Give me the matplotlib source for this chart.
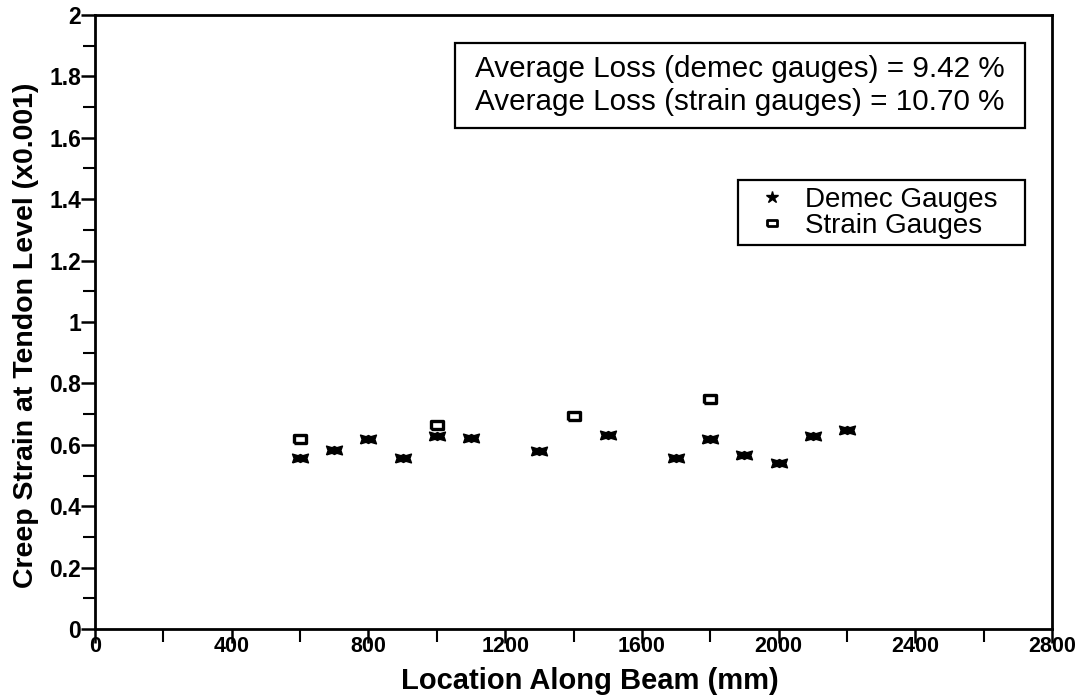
import matplotlib
matplotlib.use("Agg")
import matplotlib.pyplot as plt
from matplotlib.ticker import MultipleLocator
from matplotlib.path import Path
from matplotlib.patches import Rectangle
from matplotlib.lines import Line2D

plt.rcParams['font.family'] = ['Liberation Sans', 'DejaVu Sans']

demec_x = [600, 700, 800, 900, 1000, 1100, 1300, 1500, 1700, 1800, 1900, 2000, 2100, 2200]
demec_y = [0.557, 0.583, 0.619, 0.557, 0.629, 0.622, 0.580, 0.632, 0.557, 0.619, 0.567, 0.541, 0.629, 0.648]
strain_x = [600, 1000, 1400, 1800]
strain_y = [0.619, 0.664, 0.694, 0.749]

x_ticks = [0, 400, 800, 1200, 1600, 2000, 2400, 2800]
y_ticks = [0, 0.2, 0.4, 0.6, 0.8, 1, 1.2, 1.4, 1.6, 1.8, 2]
y_tick_labels = ['0', '0.2', '0.4', '0.6', '0.8', '1', '1.2', '1.4', '1.6', '1.8', '2']
info_text = 'Average Loss (demec gauges) = 9.42 %\nAverage Loss (strain gauges) = 10.70 %'

fig = plt.figure(figsize=(10.83, 7), dpi=100)
ax = fig.add_axes([0.0877, 0.1014, 0.9714 - 0.0877, 0.9786 - 0.1014])

bow = Path([(-1, -0.55), (-0.3, -0.35), (0, -0.5), (0.3, -0.35), (1, -0.55),
            (0.8, 0), (1, 0.55), (0.3, 0.35), (0, 0.5), (-0.3, 0.35), (-1, 0.55), (-0.8, 0), (-1, -0.55)])
rect = Path([(-1, -0.65), (1, -0.65), (1, 0.65), (-1, 0.65), (-1, -0.65)])

ax.plot(demec_x, demec_y, linestyle='none', marker=bow, markersize=11.5,
        color='black', markeredgewidth=1)
ax.plot(strain_x, strain_y, linestyle='none', marker=rect, markersize=8.5,
        markerfacecolor='white', markeredgecolor='black', markeredgewidth=2.4)

ax.set_xlim(0, 2800)
ax.set_ylim(0, 2)
ax.set_xticks(x_ticks)
ax.set_yticks(y_ticks)
ax.set_xticklabels([str(v) for v in x_ticks])
ax.set_yticklabels(y_tick_labels)
ax.xaxis.set_minor_locator(MultipleLocator(200))
ax.yaxis.set_minor_locator(MultipleLocator(0.1))
ax.tick_params(axis='both', which='major', direction='out', length=10, width=1.8)
ax.tick_params(axis='x', which='major', pad=-5, labelsize=15.5)
ax.tick_params(axis='y', which='major', pad=0, labelsize=16.5)
ax.tick_params(axis='both', which='minor', direction='out', length=9, width=1.5)
for lbl in ax.get_xticklabels() + ax.get_yticklabels():
    lbl.set_fontweight('bold')
for sp in ax.spines.values():
    sp.set_linewidth(2)

ax.set_xlabel('Location Along Beam (mm)', fontsize=21, fontweight='bold')
ax.xaxis.set_label_coords(0.517, -0.062)
ax.set_ylabel('Creep Strain at Tendon Level (x0.001)', fontsize=20.5, fontweight='bold')
ax.yaxis.set_label_coords(-0.058, 0.479)

# info box
ax.add_patch(Rectangle((0.376, 0.816), 0.596, 0.138, transform=ax.transAxes,
                       facecolor='white', edgecolor='black', linewidth=1.6, zorder=4))
ax.text(0.674, 0.885, info_text, transform=ax.transAxes, ha='center', va='center',
        fontsize=21.3, linespacing=1.2, zorder=5)

# legend box
ax.add_patch(Rectangle((0.672, 0.625), 0.300, 0.106, transform=ax.transAxes,
                       facecolor='white', edgecolor='black', linewidth=1.6, zorder=4))
h1 = Line2D([], [], linestyle='none', marker='*', markersize=9, color='black')
h2 = Line2D([], [], linestyle='none', marker=rect, markersize=7,
            markerfacecolor='white', markeredgecolor='black', markeredgewidth=2)
leg = ax.legend([h1, h2], ['Demec Gauges', 'Strain Gauges'], loc='center',
                bbox_to_anchor=(0.818, 0.678), fontsize=20, frameon=False,
                handlelength=1.0, handletextpad=0.7, labelspacing=0.0,
                borderpad=0.0)
leg.set_zorder(6)

fig.savefig('out.png', dpi=100)
